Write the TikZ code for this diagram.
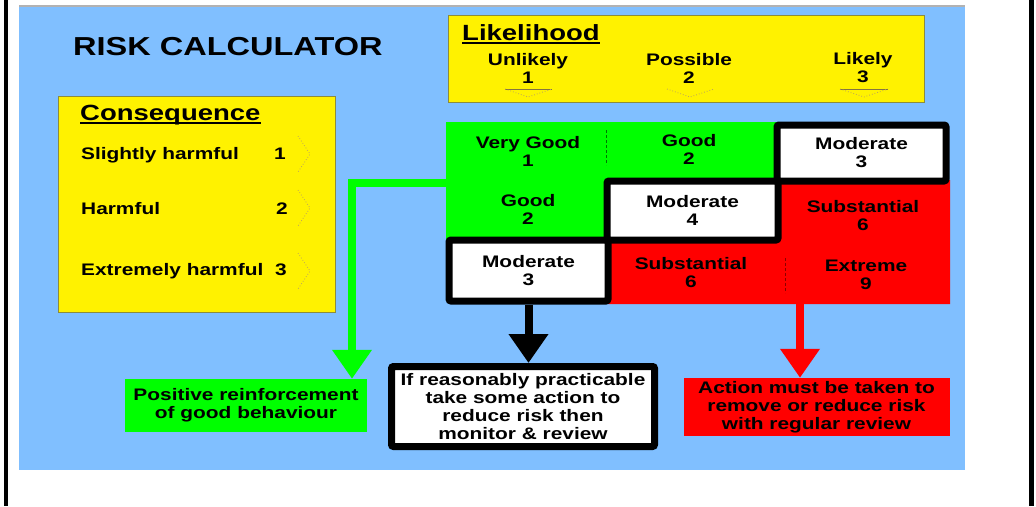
\documentclass[tikz,border=0pt]{standalone}
\usepackage{fontspec}
\setmainfont{Liberation Sans}[FakeStretch=1.25]
\usetikzlibrary{arrows.meta}

\definecolor{skyblue}{RGB}{128,191,255}
\definecolor{chevcol}{RGB}{190,165,90}
\definecolor{panelline}{RGB}{140,140,60}

\begin{document}
\begin{tikzpicture}[x=1pt,y=-1pt,
    panel/.style={draw=panelline,fill=yellow,line width=0.8pt,inner sep=0pt},
    txt/.style={font=\bfseries\fontsize{16.7}{18}\selectfont,inner sep=0pt},
    cell/.style={txt,align=center},
    head/.style={font=\bfseries\fontsize{22}{24}\selectfont,inner sep=0pt},
    modbox/.style={cell,draw=black,fill=white,line width=7pt,rounded corners=2pt},
    flow/.style={line width=8pt,-{Triangle[width=38pt,length=29pt]}},
    chev/.style={chevcol,dotted,line width=0.8pt}]
    \useasboundingbox (0,0) rectangle (1036,506);

    % Frame and background
    \fill[black] (4,0) rectangle (8,506);
    \fill[black] (1029,0) rectangle (1034,506);
    \fill[skyblue] (19,7) rectangle (965,470);
    \draw[gray!60,line width=1.5pt] (19,6) -- (965,6);

    % Title
    \node[font=\bfseries\fontsize{26}{28}\selectfont,inner sep=0pt,anchor=west] (title) at (73,47) {RISK CALCULATOR};

    % Likelihood panel
    \node[panel,minimum width=476,minimum height=87] (like) at (686,58.5) {};
    \node[head,anchor=base west] (likehead) at (462,40) {Likelihood};
    \draw[line width=1.6pt] ([yshift=-3pt]likehead.base west) -- ([yshift=-3pt]likehead.base east);
    \node[cell] (unlikely) at (528,68) {Unlikely\\1};
    \node[cell] (possible) at (689,68) {Possible\\2};
    \node[cell] (likely) at (863,68) {Likely\\3};
    \draw[chevcol!70!black,line width=0.8pt] (505,89) -- (552,89);
    \draw[chev] (505,89) -- (528,97) -- (552,89);
    \draw[chev] (667,89) -- (690,97) -- (714,89);
    \draw[chevcol!70!black,line width=0.8pt] (840,89) -- (888,89);
    \draw[chev] (840,89) -- (864,97) -- (888,89);

    % Consequence panel
    \node[panel,minimum width=277,minimum height=216] (cons) at (196.5,204) {};
    \node[head,anchor=base west] (conshead) at (80,120) {Consequence};
    \draw[line width=1.6pt] ([yshift=-3pt]conshead.base west) -- ([yshift=-3pt]conshead.base east);
    \node[txt,anchor=base west] (slight) at (81,159) {Slightly harmful};
    \node[txt,anchor=base] (slightnum) at (280,159) {1};
    \node[txt,anchor=base west] (harm) at (81,214) {Harmful};
    \node[txt,anchor=base] (harmnum) at (282,214) {2};
    \node[txt,anchor=base west] (extreme) at (81,275) {Extremely harmful};
    \node[txt,anchor=base] (extremenum) at (281,275) {3};
    \draw[chev] (298,136) -- (310,154) -- (298,172);
    \draw[chev] (298,190) -- (310,208) -- (298,226);
    \draw[chev] (298,253) -- (310,271) -- (298,289);

    % Risk matrix
    \fill[green] (446,122) -- (778,122) -- (778,182) -- (607,182) -- (607,241) -- (446,241) -- cycle;
    \fill[red] (776,180) -- (950,180) -- (950,304) -- (608,304) -- (608,239) -- (776,239) -- cycle;
    \draw[green!45!black,densely dashed,thin] (606,130) -- (606,165);
    \draw[red!55!black,densely dashed,thin] (785,258) -- (785,293);
    \node[modbox,minimum width=169,minimum height=56] (m13) at (861.5,153) {Moderate\\3};
    \node[modbox,minimum width=171,minimum height=59] (m22) at (692.5,210.5) {Moderate\\4};
    \node[modbox,minimum width=159,minimum height=61] (m31) at (528.5,270.5) {Moderate\\3};
    \node[cell] (c11) at (528,151.5) {Very Good\\1};
    \node[cell] (c12) at (689,149) {Good\\2};
    \node[cell] (c21) at (528,209.5) {Good\\2};
    \node[cell] (c23) at (863,215.5) {Substantial\\6};
    \node[cell] (c32) at (691,272.5) {Substantial\\6};
    \node[cell] (c33) at (866,274.5) {Extreme\\9};

    % Outcomes
    \node[cell,fill=green,minimum width=242,minimum height=53] (pos) at (246,405.5) {Positive reinforcement\\of good behaviour};
    \node[cell,draw=black,fill=white,line width=7pt,rounded corners=2pt,minimum width=263,minimum height=80] (act) at (523,406.5) {If reasonably practicable\\take some action to\\reduce risk then\\monitor \& review};
    \node[cell,fill=red,minimum width=266,minimum height=58] (must) at (816.5,407) {Action must be taken to\\remove or reduce risk\\with regular review};

    % Arrows
    \coordinate (gstart) at (446,183);
    \coordinate (gturn) at (352,183);
    \draw[flow,green] (gstart) -- (gturn) -- (gturn |- pos.north);
    \draw[flow,black] (m31.south) -- (m31.south |- act.north);
    \coordinate (rstart) at (800,304);
    \draw[flow,red] (rstart) -- (rstart |- must.north);
\end{tikzpicture}
\end{document}
